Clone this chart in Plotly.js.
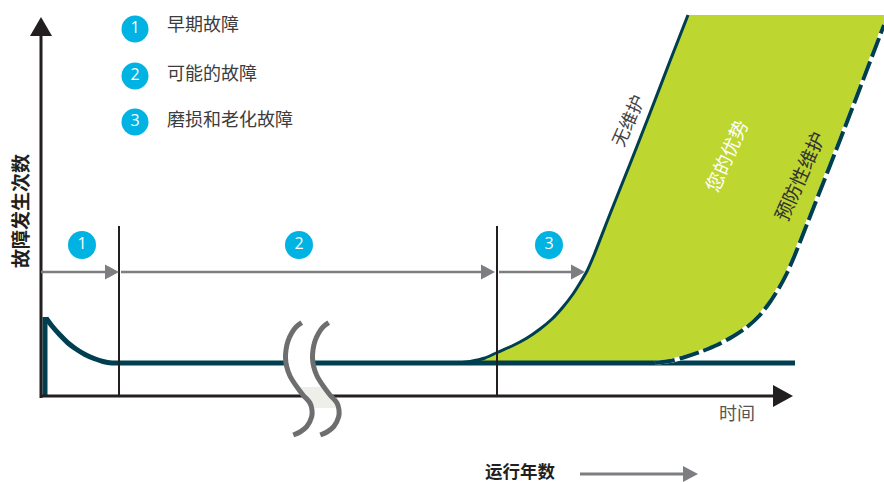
<!DOCTYPE html>
<html>
<head>
<meta charset="utf-8">
<script src="https://cdn.plot.ly/plotly-3.0.1.min.js"></script>
<style>html,body{margin:0;padding:0;background:#fff;}#chart{width:884px;height:482px;}</style>
</head>
<body>
<div id="chart"></div>
<script>
// ---------- data (diagram coordinates) ----------
const phaseLabels = ["1", "2", "3"];
const legendLabels = ["早期故障", "可能的故障", "磨损和老化故障"];
const phaseBoundaries = [119, 497];
const phaseArrowStarts = [41, 121, 499];
const phaseArrowEnds = [119, 495, 585];
const phaseBadgeX = [82, 299, 549];

// failure curve: early failures (decay) then flat
const earlyX = [46, 52, 60, 68, 76, 85, 94, 103, 112, 119];
const earlyY = [318, 326, 335, 343, 349, 354.5, 358.5, 361.5, 363, 363];
const flatX = [119, 795];
const flatY = [363, 363];

// without maintenance (wear-out curve)
const noMaintX = [458, 470, 485, 497, 512, 527, 540, 552, 563, 573, 580, 587, 594, 610, 630, 650, 670, 688];
const noMaintY = [363, 361.5, 358, 352.5, 346, 338, 329, 319, 307, 294, 283, 271, 255, 214, 164, 113, 61, 15];

// with preventive maintenance
const prevMaintX = [655, 670, 685, 700, 717, 732, 747, 760, 770, 779, 787, 794, 800, 820, 840, 860, 884];
const prevMaintY = [363, 361, 357, 352, 345, 337, 327, 315, 302, 288, 273, 257, 242, 191, 140, 88, 25];

// axis break symbol
const breakLeftX = [301.7, 296, 291.7, 288, 286, 285.5, 286.7, 290, 296.7, 303, 310, 312, 311.7, 306.7, 300, 293.3];
const breakLeftY = [322.7, 327, 333, 341, 350, 358, 366.7, 376, 386.7, 395, 403, 410, 416.7, 426.7, 432, 435];
const breakShift = 27;

// ---------- styles ----------
const TEAL = "#003f4f", GREEN = "#bdd630", BLUE = "#00b3e3", GREY = "#7d7e81", INK = "#231f20";
const FONT = "Noto Sans CJK SC, Noto Sans, sans-serif";

const traces = [];
function line(x, y, color, width, extra) {
  traces.push(Object.assign({type: "scatter", mode: "lines", x: x, y: y, hoverinfo: "skip",
    line: {color: color, width: width}}, extra || {}));
}
function poly(x, y, color) {
  traces.push({type: "scatter", mode: "lines", x: x.concat([x[0]]), y: y.concat([y[0]]), fill: "toself",
    fillcolor: color, line: {width: 0, color: color}, hoverinfo: "skip"});
}
function head(tx, ty, dir, len, half, color) {
  if (dir === "right") poly([tx, tx - len, tx - len], [ty, ty - half, ty + half], color);
  else poly([tx, tx - half, tx + half], [ty, ty + len, ty + len], color);
}

// green advantage area
const fillX = noMaintX.concat([884, 884]).concat(prevMaintX.slice().reverse());
const fillY = noMaintY.concat([15, 25]).concat(prevMaintY.slice().reverse());
poly(fillX, fillY, GREEN);

// curves
line([earlyX[0] - 1, earlyX[0] - 1], [397, earlyY[0] - 1], TEAL, 5);
line(earlyX, earlyY, TEAL, 5, {line: {color: TEAL, width: 5, shape: "spline"}});
line(flatX, flatY, TEAL, 5);
line(noMaintX, noMaintY, TEAL, 3, {line: {color: TEAL, width: 3, shape: "spline", smoothing: 0.6}});
line(prevMaintX, prevMaintY, "#ffffff", 4, {line: {color: "#ffffff", width: 4, shape: "spline", smoothing: 0.6}});
line(prevMaintX, prevMaintY, TEAL, 4, {line: {color: TEAL, width: 4, dash: "20px,5px", shape: "spline", smoothing: 0.6}});

// axes
line([41, 775], [396, 396], INK, 3);
head(793, 396, "right", 20, 11, INK);
line([41, 41], [398, 34], INK, 3);
head(41, 17, "up", 19, 11, INK);

// phase boundaries
phaseBoundaries.forEach(function (bx) { line([bx, bx], [226, 397], INK, 2); });

// break symbol
const breakRightX = breakLeftX.map(function (v) { return v + breakShift; });
poly(breakLeftX.concat(breakRightX.slice().reverse()), breakLeftY.concat(breakLeftY.slice().reverse()), "#ffffff");
poly([297, 324, 337, 310], [387, 387, 408, 408], "#efefe9");
line(breakLeftX, breakLeftY, "#6d6e70", 5, {line: {color: "#6d6e70", width: 5, shape: "spline"}});
line(breakRightX, breakLeftY, "#6d6e70", 5, {line: {color: "#6d6e70", width: 5, shape: "spline"}});

// phase arrows
for (let i = 0; i < 3; i++) {
  line([phaseArrowStarts[i], phaseArrowEnds[i] - 13], [272, 272], GREY, 2.5);
  head(phaseArrowEnds[i], 272, "right", 14, 7.5, GREY);
}
// years arrow
line([580, 684], [474, 474], GREY, 3);
head(698, 474, "right", 15, 8, GREY);

// badges
traces.push({type: "scatter", mode: "markers+text", x: phaseBadgeX, y: [245, 245, 245], text: phaseLabels,
  textposition: "middle center", textfont: {color: "#ffffff", size: 16, family: "Open Sans, sans-serif"},
  marker: {size: 28, color: BLUE, line: {width: 0}}, hoverinfo: "skip", cliponaxis: false});
traces.push({type: "scatter", mode: "markers+text", x: [135, 135, 135], y: [29, 76, 122], text: phaseLabels,
  textposition: "middle center", textfont: {color: "#ffffff", size: 16, family: "Open Sans, sans-serif"},
  marker: {size: 27, color: BLUE, line: {width: 0}}, hoverinfo: "skip", cliponaxis: false});

const ann = [];
function txt(x, y, t, size, color, opts) {
  ann.push(Object.assign({xref: "x", yref: "y", x: x, y: y, text: t, showarrow: false,
    font: {family: FONT, size: size, color: color}, xanchor: "center", yanchor: "middle"}, opts || {}));
}
const legendY = [23, 72, 118];
legendLabels.forEach(function (l, i) { txt(165, legendY[i], l, 18, "#3c3c3c", {xanchor: "left"}); });
txt(19, 211, "<b>故障发生次数</b>", 19, INK, {textangle: -90});
txt(520, 470, "<b>运行年数</b>", 17.5, INK, {borderpad: 0});
txt(737, 412, "时间", 18, "#555555");
txt(627, 120, "无维护", 18, "#444444", {textangle: -66});
txt(725, 155, "您的优势", 19, "#ffffff", {textangle: -66});
txt(798, 176, "预防性维护", 19, "#333333", {textangle: -66});

const layout = {
  width: 884, height: 482, margin: {l: 0, r: 0, t: 0, b: 0},
  paper_bgcolor: "#ffffff", plot_bgcolor: "#ffffff", showlegend: false,
  xaxis: {range: [0, 884], visible: false, fixedrange: true},
  yaxis: {range: [482, 0], visible: false, fixedrange: true},
  annotations: ann
};
Plotly.newPlot("chart", traces, layout, {staticPlot: true, displayModeBar: false});
</script>
</body>
</html>
